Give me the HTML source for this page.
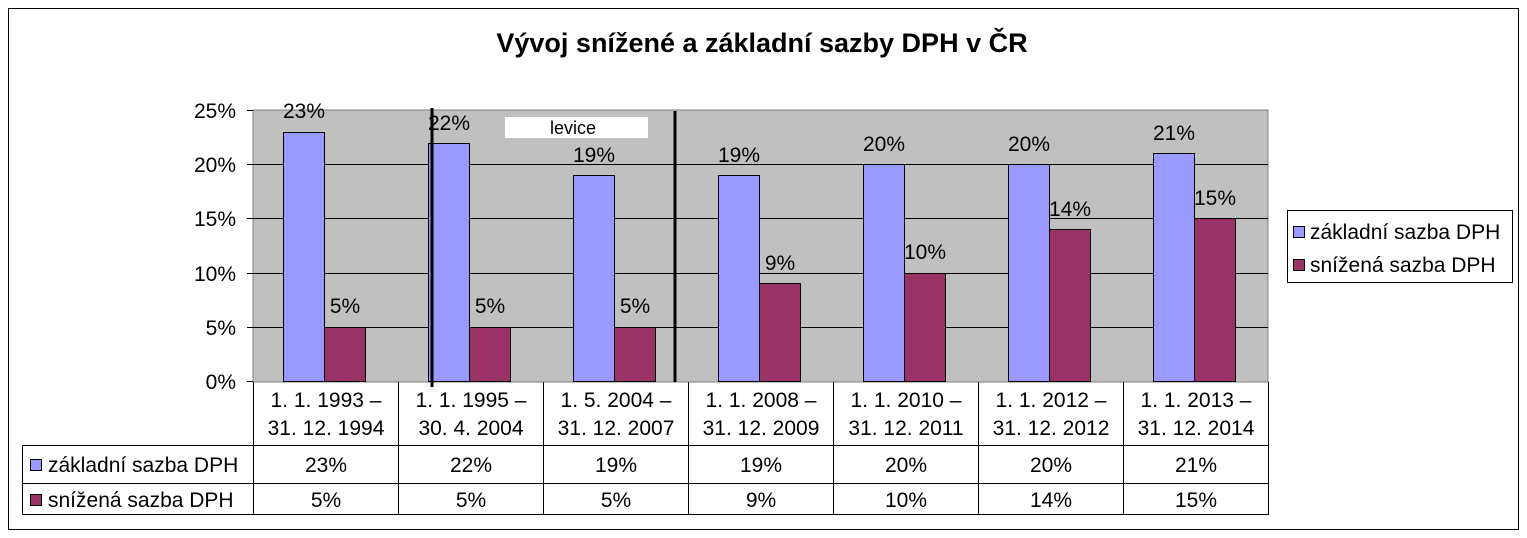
<!DOCTYPE html>
<html><head><meta charset="utf-8"><style>
body{margin:0;background:#fff}
svg{display:block;font-family:"Liberation Sans",Arial,sans-serif}
</style></head><body>
<svg width="1527" height="538" xmlns="http://www.w3.org/2000/svg">
<rect x="0" y="0" width="1527" height="538" fill="#fff"/>
<rect x="8.5" y="8.5" width="1510" height="521" fill="#fff" stroke="#000" stroke-width="1"/>
<text x="762" y="52" font-size="27" font-weight="bold" text-anchor="middle">Vývoj snížené a základní sazby DPH v ČR</text>
<rect x="253" y="110" width="1015" height="272" fill="#c0c0c0" stroke="#808080"/>
<g stroke="#000" stroke-width="1">
<line x1="253" y1="164.5" x2="1268" y2="164.5"/>
<line x1="253" y1="218.5" x2="1268" y2="218.5"/>
<line x1="253" y1="273.5" x2="1268" y2="273.5"/>
<line x1="253" y1="327.5" x2="1268" y2="327.5"/>
<line x1="247" y1="110.5" x2="253" y2="110.5"/>
<line x1="247" y1="164.5" x2="253" y2="164.5"/>
<line x1="247" y1="218.5" x2="253" y2="218.5"/>
<line x1="247" y1="273.5" x2="253" y2="273.5"/>
<line x1="247" y1="327.5" x2="253" y2="327.5"/>
<line x1="247" y1="381.5" x2="253" y2="381.5"/>
</g>
<g font-size="21" text-anchor="end">
<text x="236" y="118">25%</text><text x="236" y="172">20%</text><text x="236" y="226">15%</text>
<text x="236" y="281">10%</text><text x="236" y="335">5%</text><text x="236" y="389">0%</text>
</g>
<g stroke="#000" stroke-width="1">
<rect x="283.5" y="132.5" width="41" height="249" fill="#9999ff"/>
<rect x="324.5" y="327.5" width="41" height="54" fill="#993366"/>
<rect x="428.5" y="143.5" width="41" height="238" fill="#9999ff"/>
<rect x="469.5" y="327.5" width="41" height="54" fill="#993366"/>
<rect x="573.5" y="175.5" width="41" height="206" fill="#9999ff"/>
<rect x="614.5" y="327.5" width="41" height="54" fill="#993366"/>
<rect x="718.5" y="175.5" width="41" height="206" fill="#9999ff"/>
<rect x="759.5" y="283.5" width="41" height="98" fill="#993366"/>
<rect x="863.5" y="164.5" width="41" height="217" fill="#9999ff"/>
<rect x="904.5" y="273.5" width="41" height="108" fill="#993366"/>
<rect x="1008.5" y="164.5" width="41" height="217" fill="#9999ff"/>
<rect x="1049.5" y="229.5" width="41" height="152" fill="#993366"/>
<rect x="1153.5" y="153.5" width="41" height="228" fill="#9999ff"/>
<rect x="1194.5" y="218.5" width="41" height="163" fill="#993366"/>
</g>
<g font-size="21" text-anchor="middle">
<text x="304" y="118">23%</text><text x="345" y="313">5%</text>
<text x="449" y="130">22%</text><text x="490" y="313">5%</text>
<text x="594" y="162">19%</text><text x="635" y="313">5%</text>
<text x="739" y="162">19%</text><text x="780" y="270">9%</text>
<text x="884" y="151">20%</text><text x="925" y="259">10%</text>
<text x="1029" y="151">20%</text><text x="1070" y="216">14%</text>
<text x="1174" y="140">21%</text><text x="1215" y="205">15%</text>
</g>
<rect x="505" y="117" width="143" height="21" fill="#fff"/>
<text x="573" y="134" font-size="18" text-anchor="middle">levice</text>
<line x1="432" y1="108" x2="432" y2="387" stroke="#000" stroke-width="3"/>
<line x1="675" y1="111" x2="675" y2="382" stroke="#000" stroke-width="3"/>
<g stroke="#000" stroke-width="1" fill="none">
<line x1="253.5" y1="382" x2="253.5" y2="515"/>
<line x1="398.5" y1="382" x2="398.5" y2="515"/>
<line x1="543.5" y1="382" x2="543.5" y2="515"/>
<line x1="688.5" y1="382" x2="688.5" y2="515"/>
<line x1="833.5" y1="382" x2="833.5" y2="515"/>
<line x1="978.5" y1="382" x2="978.5" y2="515"/>
<line x1="1123.5" y1="382" x2="1123.5" y2="515"/>
<line x1="1268.5" y1="382" x2="1268.5" y2="515"/>
<line x1="22.5" y1="445.5" x2="1268.5" y2="445.5"/>
<line x1="22.5" y1="483.5" x2="1268.5" y2="483.5"/>
<line x1="22.5" y1="514.5" x2="1268.5" y2="514.5"/>
<line x1="22.5" y1="445.5" x2="22.5" y2="514.5"/>
</g>
<g font-size="21" text-anchor="middle">
<text x="326" y="407">1. 1. 1993 –</text><text x="326" y="435">31. 12. 1994</text>
<text x="471" y="407">1. 1. 1995 –</text><text x="471" y="435">30. 4. 2004</text>
<text x="616" y="407">1. 5. 2004 –</text><text x="616" y="435">31. 12. 2007</text>
<text x="761" y="407">1. 1. 2008 –</text><text x="761" y="435">31. 12. 2009</text>
<text x="906" y="407">1. 1. 2010 –</text><text x="906" y="435">31. 12. 2011</text>
<text x="1051" y="407">1. 1. 2012 –</text><text x="1051" y="435">31. 12. 2012</text>
<text x="1196" y="407">1. 1. 2013 –</text><text x="1196" y="435">31. 12. 2014</text>
<text x="326" y="472">23%</text><text x="471" y="472">22%</text><text x="616" y="472">19%</text><text x="761" y="472">19%</text><text x="906" y="472">20%</text><text x="1051" y="472">20%</text><text x="1196" y="472">21%</text>
<text x="326" y="507">5%</text><text x="471" y="507">5%</text><text x="616" y="507">5%</text><text x="761" y="507">9%</text><text x="906" y="507">10%</text><text x="1051" y="507">14%</text><text x="1196" y="507">15%</text>
</g>
<rect x="30.5" y="459.5" width="11" height="11" fill="#9999ff" stroke="#000"/>
<rect x="30.5" y="494.5" width="11" height="11" fill="#993366" stroke="#000"/>
<text x="48" y="472" font-size="21">základní sazba DPH</text>
<text x="48" y="507" font-size="21">snížená sazba DPH</text>
<rect x="1287.5" y="210.5" width="225" height="72" fill="#fff" stroke="#000"/>
<rect x="1293.5" y="226.5" width="11" height="11" fill="#9999ff" stroke="#000"/>
<rect x="1293.5" y="259.5" width="11" height="11" fill="#993366" stroke="#000"/>
<text x="1310" y="239" font-size="21">základní sazba DPH</text>
<text x="1310" y="272" font-size="21">snížená sazba DPH</text>
</svg>
</body></html>
